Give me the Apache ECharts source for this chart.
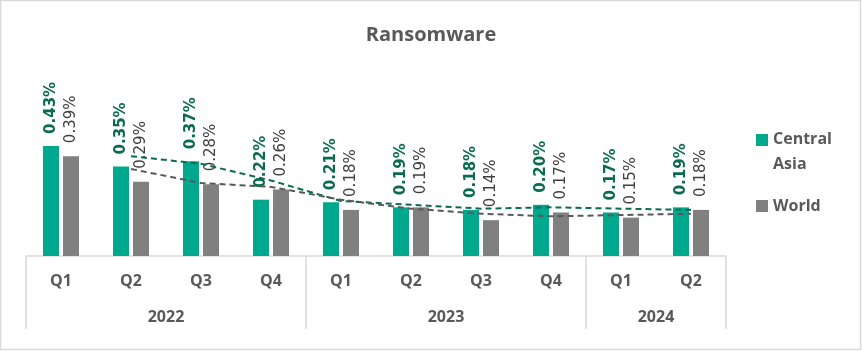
<!DOCTYPE html>
<html>
<head>
<meta charset="utf-8">
<script src="https://cdn.jsdelivr.net/npm/echarts@6/dist/echarts.min.js"></script>
<style>
  html, body { margin: 0; padding: 0; background: #fff; }
  #chart { width: 862px; height: 351px; }
</style>
</head>
<body>
<div id="chart"></div>
<script>
// data
var quarters = ['Q1', 'Q2', 'Q3', 'Q4', 'Q1', 'Q2', 'Q3', 'Q4', 'Q1', 'Q2'];
var years = ['2022', '2023', '2024'];
var quartersPerYear = [4, 4, 2];
var centralAsia = [0.43, 0.35, 0.37, 0.22, 0.21, 0.19, 0.18, 0.20, 0.17, 0.19];
var world = [0.39, 0.29, 0.28, 0.26, 0.18, 0.19, 0.14, 0.17, 0.15, 0.18];

// 2-period moving average trendline (like Excel)
function movingAvg(arr) {
  return arr.map(function (v, i) {
    return i === 0 ? null : (arr[i - 1] + v) / 2;
  });
}

// year boundaries and centres on the value axis underneath
var bounds = [0];
var centres = [];
quartersPerYear.forEach(function (n) {
  var last = bounds[bounds.length - 1];
  centres.push(last + n / 2);
  bounds.push(last + n);
});

var GREEN = '#00A88E';
var GREY = '#808080';
var TXT = '#595959';

var chart = echarts.init(document.getElementById('chart'));

var pctFmt = function (p) { return p.value.toFixed(2) + '%'; };

chart.setOption({
  animation: false,
  title: {
    text: 'Ransomware',
    left: 'center',
    top: 20,
    textStyle: { fontFamily: 'Open Sans', fontSize: 20, fontWeight: 'bold', color: TXT }
  },
  legend: [{
    left: 751,
    top: 122,
    itemWidth: 12,
    itemHeight: 36,
    data: [{ name: 'Central Asia', icon: 'path://M0,0h12v12h-12zM0,35.9h0.1v0.1h-0.1z' }],
    formatter: function () { return 'Central\nAsia'; },
    textStyle: { fontFamily: 'Open Sans', fontSize: 16, fontWeight: 'bold', color: TXT, lineHeight: 25 }
  }, {
    left: 751,
    top: 193,
    itemWidth: 12,
    itemHeight: 12,
    data: [{ name: 'World', icon: 'rect' }],
    textStyle: { fontFamily: 'Open Sans', fontSize: 16, fontWeight: 'bold', color: TXT }
  }],
  graphic: [{
    type: 'rect',
    shape: { x: 0.5, y: 0.5, width: 860, height: 349 },
    style: { fill: 'none', stroke: '#d9d9d9', lineWidth: 1.5 },
    silent: true
  }],
  grid: { left: 26, right: 136, top: 128, bottom: 95 },
  xAxis: [{
    type: 'category',
    data: quarters,
    axisLine: { lineStyle: { color: '#d9d9d9', width: 1.5 } },
    axisTick: { show: false },
    axisLabel: {
      margin: 17,
      fontFamily: 'Open Sans', fontSize: 16, fontWeight: 'bold', color: TXT
    }
  }, {
    type: 'value',
    position: 'bottom',
    min: 0,
    max: quarters.length,
    axisLine: { show: false },
    splitLine: { show: false },
    axisTick: {
      show: true,
      length: 73,
      customValues: bounds,
      lineStyle: { color: '#d9d9d9', width: 1.5 }
    },
    axisLabel: {
      margin: 53,
      customValues: centres,
      formatter: function (v) { return years[centres.indexOf(v)] || ''; },
      fontFamily: 'Open Sans', fontSize: 16, fontWeight: 'bold', color: TXT
    }
  }],
  yAxis: { type: 'value', min: 0, max: 0.5, show: false },
  series: [{
    name: 'Central Asia',
    type: 'bar',
    data: centralAsia,
    barWidth: 16,
    barGap: '25%',
    itemStyle: { color: GREEN },
    label: {
      show: true,
      position: 'top',
      distance: 12,
      rotate: 90,
      align: 'left',
      verticalAlign: 'middle',
      formatter: pctFmt,
      fontFamily: 'DejaVu Sans', fontSize: 15, fontWeight: 'bold', color: '#0B6B50'
    }
  }, {
    name: 'World',
    type: 'bar',
    data: world,
    barWidth: 16,
    itemStyle: { color: GREY },
    label: {
      show: true,
      position: 'top',
      distance: 13,
      rotate: 90,
      align: 'left',
      verticalAlign: 'middle',
      formatter: pctFmt,
      fontFamily: 'DejaVu Sans', fontSize: 15, color: '#404040'
    }
  }, {
    name: 'Central Asia trend',
    type: 'line',
    data: movingAvg(centralAsia),
    symbol: 'none',
    z: 5,
    lineStyle: { color: '#0B6B50', width: 2, type: [6, 4] }
  }, {
    name: 'World trend',
    type: 'line',
    data: movingAvg(world),
    symbol: 'none',
    z: 5,
    lineStyle: { color: '#595959', width: 2, type: [6, 4] }
  }]
});
</script>
</body>
</html>
